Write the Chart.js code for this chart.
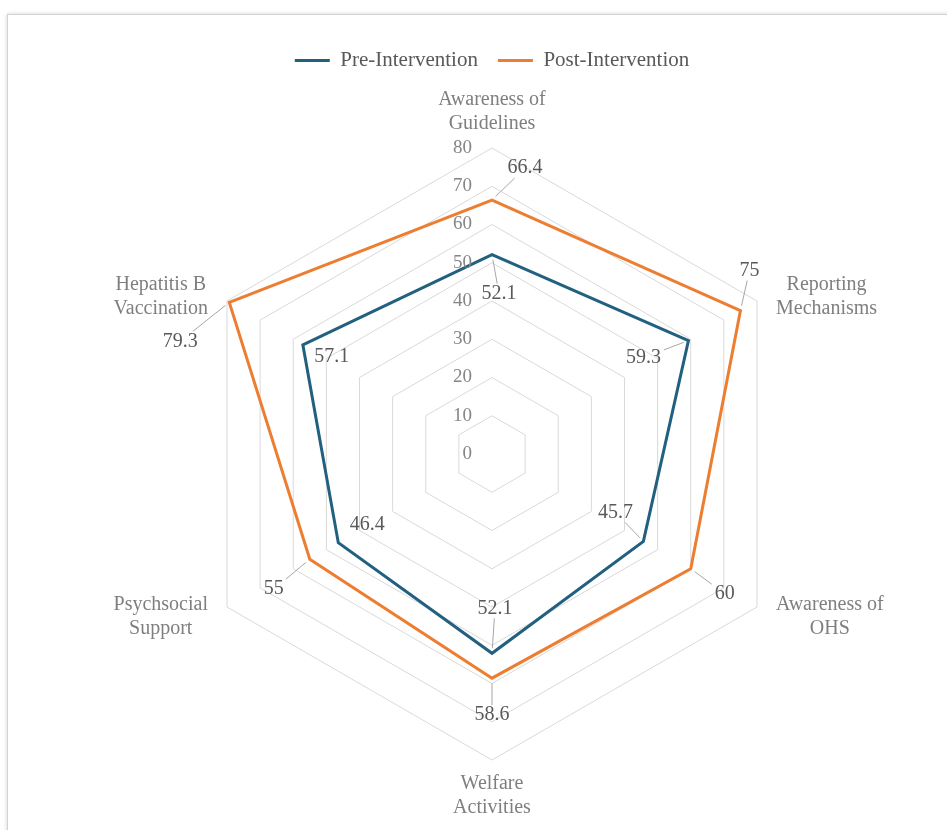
<!DOCTYPE html>
<html>
<head>
<meta charset="utf-8">
<title>Radar chart</title>
<script src="https://cdn.jsdelivr.net/npm/chart.js@4.4.1/dist/chart.umd.min.js"></script>
<style>
  html, body { margin: 0; padding: 0; background: #fff; overflow: hidden; font-family: "Liberation Serif", "DejaVu Serif", serif; }
  #frame {
    position: absolute; left: 7px; top: 14px; width: 1000px; height: 900px;
    border: 1px solid #d2d2d2; box-shadow: 0 0 4px rgba(0, 0, 0, 0.18); background: #fff;
  }
  #wrap { position: absolute; left: 0; top: 0; width: 947px; height: 830px; }
  #warm { position: absolute; left: -9999px; top: 0; font-family: "Liberation Serif"; }
</style>
</head>
<body>
<div id="frame"></div>
<div id="warm">Awareness 0123456789</div>
<div id="wrap"><canvas id="chart" width="947" height="830"></canvas></div>
<script>
// categories, clockwise from the top
const categories = [
  ['Awareness of', 'Guidelines'],
  ['Reporting', 'Mechanisms'],
  ['Awareness of', 'OHS'],
  ['Welfare', 'Activities'],
  ['Psychsocial', 'Support'],
  ['Hepatitis B', 'Vaccination']
];
const preValues = [52.1, 59.3, 45.7, 52.1, 46.4, 57.1];
const postValues = [66.4, 75, 60, 58.6, 55, 79.3];
const seriesNames = ['Pre-Intervention', 'Post-Intervention'];
const scaleMin = 0;
const scaleMax = 80;
const scaleStep = 10;

// where each value label sits relative to its point: [dx, dy, leader line]
const preLabelPos = [[7, 39, true], [-45, 17, true], [-28, -29, true], [3, -45, true], [29, -18, false], [29, 12, false]];
const postLabelPos = [[33, -32, true], [9, -40, true], [34, 25, true], [0, 37, true], [-36, 30, true], [-49, 39, true]];
const labelSpots = [preLabelPos, postLabelPos];

const FONT = "'Liberation Serif', 'DejaVu Serif', serif";

// tick labels, category labels and value labels (Excel style)
const annotate = {
  id: 'annotate',
  afterDatasetsDraw(chart) {
    const ctx = chart.ctx;
    const r = chart.scales.r;
    ctx.save();
    ctx.textBaseline = 'middle';

    // ticks sit left of the vertical axis
    ctx.font = '19px ' + FONT;
    ctx.fillStyle = '#858585';
    ctx.textAlign = 'right';
    r.ticks.forEach(t => {
      const p = r.getPointPositionForValue(0, t.value);
      ctx.fillText(String(t.value), p.x - 20, p.y);
    });

    // category labels
    ctx.font = '20px ' + FONT;
    ctx.fillStyle = '#7f7f7f';
    ctx.textAlign = 'center';
    const lh = 24;
    chart.data.labels.forEach((lines, i) => {
      const probe = r.getPointPosition(i, r.drawingArea);
      const dx = probe.x - r.xCenter;
      const w = Math.max(...lines.map(s => ctx.measureText(s).width));
      let cx, top;
      if (Math.abs(dx) < 1) {
        const p = r.getPointPosition(i, r.drawingArea + 12);
        cx = p.x;
        top = p.y < r.yCenter ? p.y - lines.length * lh : p.y;
      } else {
        const px = r.getPointPosition(i, r.drawingArea + 22).x;
        const py = r.getPointPosition(i, r.drawingArea + 14).y + 3;
        cx = px + Math.sign(dx) * w / 2;
        top = py - lines.length * lh / 2;
      }
      lines.forEach((s, k) => ctx.fillText(s, cx, top + lh * k + lh / 2));
    });

    // value labels with leader lines
    ctx.strokeStyle = '#a6a6a6';
    ctx.lineWidth = 1;
    chart.data.datasets.forEach((ds, di) => {
      const meta = chart.getDatasetMeta(di);
      meta.data.forEach((pt, i) => {
        const [dx, dy, lead] = labelSpots[di][i];
        const txt = String(ds.data[i]);
        const tx = pt.x + dx, ty = pt.y + dy;
        if (lead) {
          const hw = ctx.measureText(txt).width / 2 + 3, hh = 10;
          const t = Math.min(dx ? hw / Math.abs(dx) : 1, dy ? hh / Math.abs(dy) : 1);
          const ex = tx - dx * t, ey = ty - dy * t;
          const len = Math.hypot(dx, dy);
          const sx = pt.x + dx / len * 5, sy = pt.y + dy / len * 5;
          ctx.beginPath();
          ctx.moveTo(sx, sy);
          ctx.lineTo(ex, ey);
          ctx.stroke();
        }
        ctx.fillStyle = '#595959';
        ctx.fillText(txt, tx, ty);
      });
    });
    ctx.restore();
  }
};

function draw() {
  Chart.defaults.font.family = FONT;

  new Chart(document.getElementById('chart'), {
    type: 'radar',
    data: {
      labels: categories,
      datasets: [
        {
          label: seriesNames[0],
          data: preValues,
          borderColor: '#22607f',
          backgroundColor: '#22607f',
          borderWidth: 3,
          fill: false,
          pointRadius: 0,
          pointHoverRadius: 0,
          tension: 0
        },
        {
          label: seriesNames[1],
          data: postValues,
          borderColor: '#ed7d31',
          backgroundColor: '#ed7d31',
          borderWidth: 3,
          fill: false,
          pointRadius: 0,
          pointHoverRadius: 0,
          tension: 0
        }
      ]
    },
    options: {
      responsive: false,
      devicePixelRatio: 1,
      animation: false,
      events: [],
      layout: { padding: { top: 30, left: 186, right: 149, bottom: 3 } },
      scales: {
        r: {
          min: scaleMin,
          max: scaleMax,
          ticks: { stepSize: scaleStep, display: false },
          grid: { color: '#d9d9d9', lineWidth: 1 },
          angleLines: { display: false },
          pointLabels: { display: false }
        }
      },
      plugins: {
        legend: {
          position: 'top',
          labels: {
            usePointStyle: true,
            pointStyle: 'line',
            pointStyleWidth: 35,
            padding: 20,
            color: '#595959',
            font: { size: 21, family: FONT }
          }
        },
        tooltip: { enabled: false }
      }
    },
    plugins: [annotate]
  });
}

if (document.fonts && document.fonts.load) {
  Promise.all([
    document.fonts.load("20px 'Liberation Serif'"),
    document.fonts.load("20px 'DejaVu Serif'")
  ]).then(draw, draw);
} else {
  draw();
}
</script>
</body>
</html>
